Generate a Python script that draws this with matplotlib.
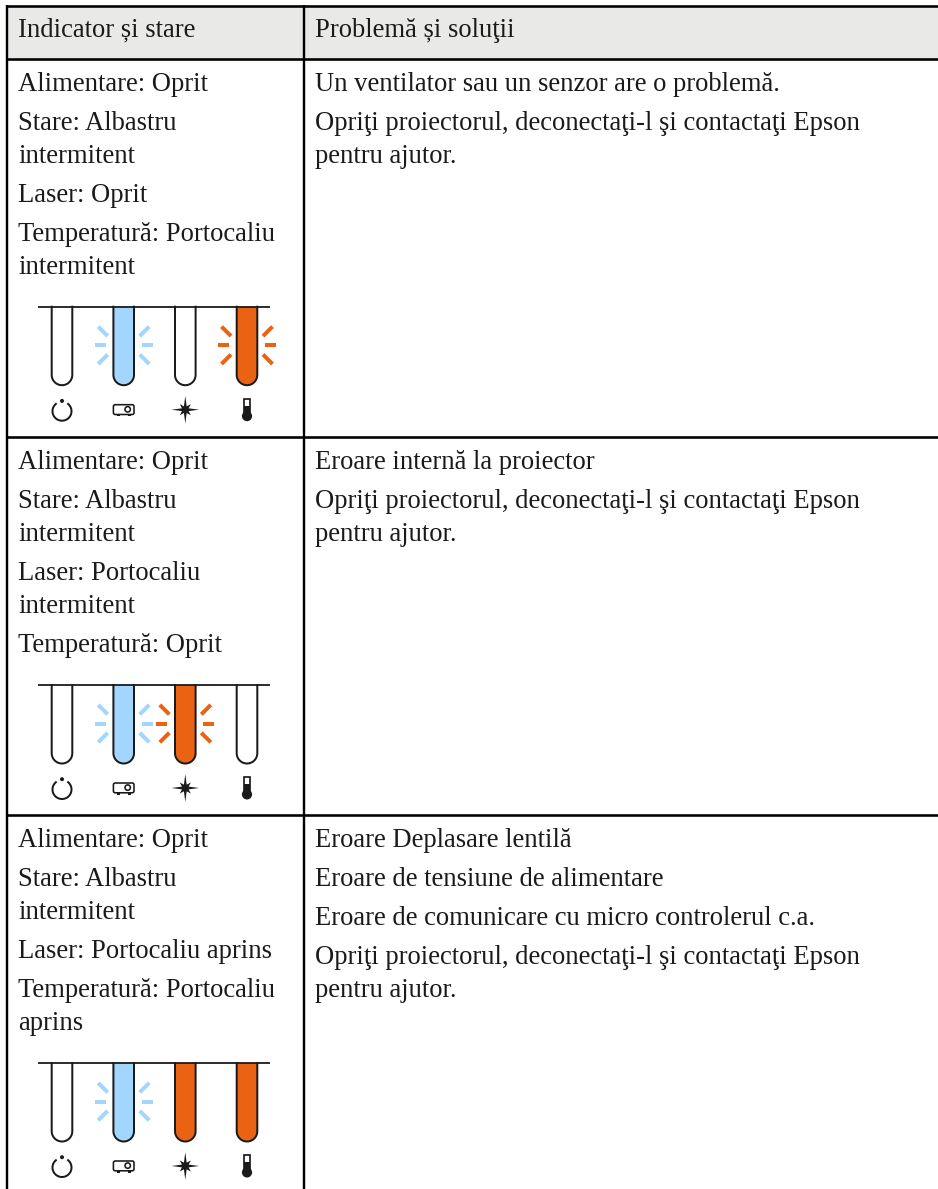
import numpy as np
import matplotlib
matplotlib.use("Agg")
import matplotlib.pyplot as plt
from matplotlib.patches import Rectangle, Circle, FancyBboxPatch, Polygon

plt.rcParams['font.family'] = ['Liberation Serif', 'DejaVu Serif']

W, H = 938, 1189

headers = ["Indicator și stare", "Problemă și soluţii"]

left_lines = [
    ["Alimentare: Oprit", "Stare: Albastru", "intermitent", "Laser: Oprit",
     "Temperatură: Portocaliu", "intermitent"],
    ["Alimentare: Oprit", "Stare: Albastru", "intermitent", "Laser: Portocaliu",
     "intermitent", "Temperatură: Oprit"],
    ["Alimentare: Oprit", "Stare: Albastru", "intermitent", "Laser: Portocaliu aprins",
     "Temperatură: Portocaliu", "aprins"],
]
right_lines = [
    ["Un ventilator sau un senzor are o problemă.",
     "Opriţi proiectorul, deconectaţi-l şi contactaţi Epson", "pentru ajutor."],
    ["Eroare internă la proiector",
     "Opriţi proiectorul, deconectaţi-l şi contactaţi Epson", "pentru ajutor."],
    ["Eroare Deplasare lentilă", "Eroare de tensiune de alimentare",
     "Eroare de comunicare cu micro controlerul c.a.",
     "Opriţi proiectorul, deconectaţi-l şi contactaţi Epson", "pentru ajutor."],
]

# lamp state per row: power, status, laser, temperature
lamp_states = [
    ["off", "blue_blink", "off", "orange_blink"],
    ["off", "blue_blink", "orange_blink", "off"],
    ["off", "blue_blink", "orange_on", "orange_on"],
]

BLUE = "#A3D6FF"
ORANGE = "#EA6312"
INK = "#1a1a1a"
FS = 19.2

# layout, in picture pixels
left_base = [[91, 130, 163, 202, 241, 274],
             [469, 508, 541, 580, 613, 652],
             [847, 886, 919, 958, 997, 1030]]
right_base = [[91, 130, 163], [469, 508, 541], [847, 886, 925, 964, 997]]
rail_y = [306.7, 685, 1063]
tube_x = [62, 123.7, 185.3, 247]

fig = plt.figure(figsize=(W / 100, H / 100), dpi=100)
ax = fig.add_axes([0, 0, 1, 1])
ax.set_xlim(0, W)
ax.set_ylim(H, 0)
ax.axis('off')


def px(w):
    return w * 0.72


def draw_tube(cx, top, color):
    hw, bottom = 10.3, top + 78.5
    t = np.linspace(np.pi, 0, 40)
    xs = np.r_[cx - hw, cx + hw * np.cos(t), cx + hw]
    ys = np.r_[top, bottom - hw + hw * np.sin(t), top]
    ax.fill(xs, ys, color=color, lw=0, zorder=2)
    ax.plot(xs, ys, color=INK, lw=px(2), zorder=3)


def draw_rays(cx, cy, color):
    for side in (-1, 1):
        ax.plot([cx + side * 18, cx + side * 29], [cy, cy], color=color,
                lw=px(4), solid_capstyle='butt', zorder=2)
        for v in (-1, 1):
            ax.plot([cx + side * 16, cx + side * 25.5], [cy + v * 9.2, cy + v * 18.7],
                    color=color, lw=px(4), solid_capstyle='butt', zorder=2)


def icon_power(cx, cy):
    # open ring, gap at the top
    t = np.radians(np.linspace(40, 320, 60))
    ax.plot(cx + 9.5 * np.sin(t), cy + 1.5 - 9.5 * np.cos(t), color=INK, lw=px(2))
    ax.add_patch(Circle((cx, cy - 8.8), 2, color=INK, lw=0))


def icon_projector(cx, cy):
    ax.add_patch(Rectangle((cx - 7, cy + 4), 3.2, 2.6, color=INK, lw=0))
    ax.add_patch(Rectangle((cx + 3.8, cy + 4), 3.2, 2.6, color=INK, lw=0))
    ax.add_patch(FancyBboxPatch((cx - 10.3, cy - 5), 20.6, 9.8,
                                boxstyle="round,pad=0,rounding_size=1.8",
                                fc='white', ec=INK, lw=px(1.6)))
    ax.add_patch(Circle((cx + 4, cy - 0.4), 2.7, fc='white', ec=INK, lw=px(1.6)))


def icon_star(cx, cy):
    n = 16
    angles = np.arange(n) * 2 * np.pi / n
    radii = np.tile([13.8, 3.6, 7.8, 3.6], 4)
    ax.add_patch(Polygon(np.c_[cx + radii * np.sin(angles), cy - radii * np.cos(angles)],
                         closed=True, color=INK, lw=0))


def icon_thermo(cx, cy):
    ax.add_patch(Rectangle((cx - 2.7, cy - 11.2), 5.4, 15, fc='white', ec=INK, lw=px(1.7)))
    ax.add_patch(Rectangle((cx - 2.7, cy - 4), 5.4, 8, color=INK, lw=0))
    ax.add_patch(Circle((cx, cy + 6.4), 5.1, color=INK, lw=0))


icons = [icon_power, icon_projector, icon_star, icon_thermo]

# header band and table rules
ax.add_patch(Rectangle((7.3, 6), W, 53, fc="#E9E9E8", ec='none', zorder=0))
for y in (6, 59, 436.7, 815):
    ax.plot([6, W], [y, y], color='black', lw=px(2.6), solid_capstyle='butt', zorder=1)
for x in (7.3, 304):
    ax.plot([x, x], [5, H], color='black', lw=px(2.4), solid_capstyle='butt', zorder=1)

ax.text(18, 37, headers[0], fontsize=FS, color=INK)
ax.text(315, 37, headers[1], fontsize=FS, color=INK)

for lines, bases in zip(left_lines, left_base):
    for s, y in zip(lines, bases):
        ax.text(18, y, s, fontsize=FS, color=INK)
for lines, bases in zip(right_lines, right_base):
    for s, y in zip(lines, bases):
        ax.text(315, y, s, fontsize=FS, color=INK)

for states, top in zip(lamp_states, rail_y):
    for cx, state, icon in zip(tube_x, states, icons):
        color = {'off': 'white', 'blue_blink': BLUE}.get(state, ORANGE)
        draw_tube(cx, top, color)
        if state.endswith('blink'):
            draw_rays(cx, top + 38.6, color)
        icon(cx, top + 103)
    ax.plot([38, 270], [top, top], color=INK, lw=px(1.8), solid_capstyle='butt', zorder=4)

fig.savefig("out.png", dpi=100)
